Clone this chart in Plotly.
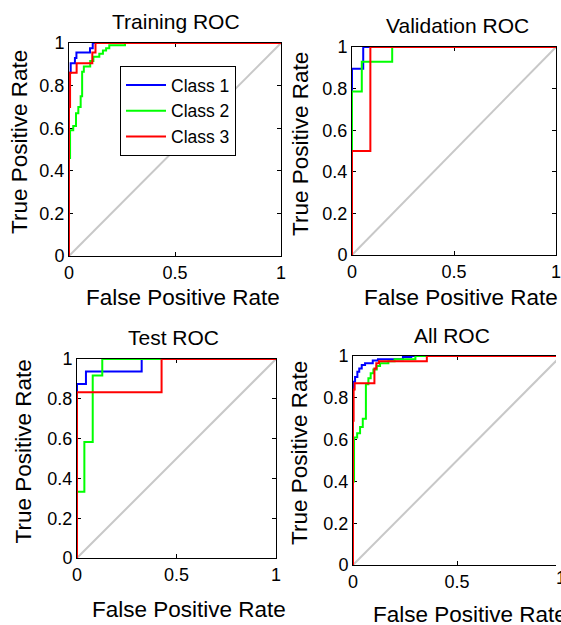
import plotly.graph_objects as go

W, H = 561, 625
FONT = "Liberation Sans, Arial, Helvetica, sans-serif"

panel_titles = ["Training ROC", "Validation ROC", "Test ROC", "All ROC"]
class_names = ["Class 1", "Class 2", "Class 3"]
class_colors = ["#0000ff", "#00ff00", "#ff0000"]
x_tick_vals = [0, 0.5, 1]
x_tick_text = ["0", "0.5", "1"]
y_tick_vals = [0, 0.2, 0.4, 0.6, 0.8, 1]
y_tick_text = ["0", "0.2", "0.4", "0.6", "0.8", "1"]

# ROC step points (vertical-then-horizontal steps), FPR / TPR per class
train_c1_fpr = [0, 0.008, 0.028, 0.035, 0.099, 0.112, 1]
train_c1_tpr = [0, 0.86, 0.905, 0.93, 0.955, 0.975, 1]
train_c2_fpr = [0, 0.005, 0.02, 0.033, 0.044, 0.055, 0.062, 0.07, 0.1, 0.115, 0.143, 0.16, 0.175, 0.19, 0.264, 1]
train_c2_tpr = [0, 0.46, 0.59, 0.61, 0.67, 0.70, 0.75, 0.865, 0.89, 0.915, 0.935, 0.95, 0.965, 0.975, 0.99, 1]
train_c3_fpr = [0, 0.005, 0.036, 0.11, 0.125, 1]
train_c3_tpr = [0, 0.70, 0.86, 0.905, 0.955, 1]

val_c1_fpr = [0, 0.055, 1]
val_c1_tpr = [0, 0.895, 1]
val_c2_fpr = [0, 0.048, 0.197, 1]
val_c2_tpr = [0, 0.786, 0.929, 1]
val_c3_fpr = [0, 0.09, 1]
val_c3_tpr = [0, 0.5, 1]

test_c1_fpr = [0, 0.045, 0.325, 1]
test_c1_tpr = [0, 0.875, 0.9375, 1]
test_c2_fpr = [0, 0.037, 0.079, 0.127, 1]
test_c2_tpr = [0, 0.333, 0.583, 0.917, 1]
test_c3_fpr = [0, 0.425, 1]
test_c3_tpr = [0, 0.833, 1]

all_c1_fpr = [0, 0.003, 0.01, 0.021, 0.03, 0.042, 0.058, 0.095, 0.12, 0.24, 0.28, 1]
all_c1_tpr = [0, 0.84, 0.877, 0.90, 0.925, 0.94, 0.957, 0.965, 0.978, 0.985, 0.995, 1]
all_c2_fpr = [0, 0.005, 0.02, 0.034, 0.047, 0.062, 0.074, 0.085, 0.098, 0.114, 0.13, 0.17, 0.2, 0.3, 1]
all_c2_tpr = [0, 0.40, 0.61, 0.63, 0.66, 0.70, 0.865, 0.893, 0.917, 0.936, 0.952, 0.965, 0.975, 0.985, 1]
all_c3_fpr = [0, 0.003, 0.008, 0.103, 0.112, 0.125, 0.355, 1]
all_c3_tpr = [0, 0.69, 0.84, 0.87, 0.94, 0.965, 0.975, 1]

panels = [
    [(train_c1_fpr, train_c1_tpr), (train_c2_fpr, train_c2_tpr), (train_c3_fpr, train_c3_tpr)],
    [(val_c1_fpr, val_c1_tpr), (val_c2_fpr, val_c2_tpr), (val_c3_fpr, val_c3_tpr)],
    [(test_c1_fpr, test_c1_tpr), (test_c2_fpr, test_c2_tpr), (test_c3_fpr, test_c3_tpr)],
    [(all_c1_fpr, all_c1_tpr), (all_c2_fpr, all_c2_tpr), (all_c3_fpr, all_c3_tpr)],
]

# target positions, in pixels of the final picture
boxes = [(69, 281, 43, 256), (352, 559, 47, 255), (77, 276, 359, 558), (353, 561, 356, 565)]
cut_right = [False, False, False, True]   # last panel runs off the right edge
title_pos = [(176, 22), (457, 25.5), (173, 337), (452, 335.5)]
xlabel_pos = [(183, 297.5), (461, 297.5), (189, 609), (470, 614)]
ylabel_pos = [(19, 142), (301, 144), (22.5, 452), (299, 453)]
legend_pos = (120, 66)

# the page is photographed into a slightly inset area: compensate
OX, OY = 5.0, 10.0
SX, SY = 551.0 / W, 605.0 / H


def fx(P):
    return (P - OX) / SX


def fy(P):
    return (P - OY) / SY


def px(P):
    return fx(P) / W


def py(P):
    return 1 - fy(P) / H


fig = go.Figure()
annotations = []
for i, (curves, box) in enumerate(zip(panels, boxes)):
    ax = "" if i == 0 else str(i + 1)
    xref, yref = "x" + ax, "y" + ax
    fig.add_trace(go.Scatter(x=[0, 1], y=[0, 1], mode="lines", xaxis=xref, yaxis=yref,
                             line=dict(color="#c8c8c8", width=2), showlegend=False, hoverinfo="skip"))
    for k, (fpr, tpr) in enumerate(curves):
        fig.add_trace(go.Scatter(x=fpr, y=tpr, mode="lines", xaxis=xref, yaxis=yref,
                                 line=dict(color=class_colors[k], width=2, shape="vh"),
                                 name=class_names[k], showlegend=(i == 0)))
    l, r, t, b = box
    lf, rf = fx(l), fx(r)
    x_end = 1.0
    if rf > W:
        if cut_right[i]:
            x_end = (W - lf) / (rf - lf)
        rf = W
    common = dict(showline=True, linecolor="black", linewidth=1, mirror="allticks",
                  ticks="inside", ticklen=4, tickcolor="black", showgrid=False, zeroline=False,
                  tickfont=dict(size=18, color="black", family=FONT), fixedrange=True,
                  layer="below traces", ticklabeloverflow="allow")
    fig.layout["xaxis" + ax] = dict(common, range=[0, x_end], domain=[lf / W, rf / W], anchor=yref,
                                    tickmode="array", tickvals=x_tick_vals, ticktext=x_tick_text)
    yax = dict(common, range=[0, 1], domain=[1 - fy(b) / H, 1 - fy(t) / H], anchor=xref,
               tickmode="array", tickvals=y_tick_vals, ticktext=y_tick_text)
    if cut_right[i]:
        yax["mirror"] = False
        annotations.append(dict(text=x_tick_text[-1], x=px(r), y=py(b + 13), xref="paper", yref="paper",
                                xanchor="center", yanchor="middle", showarrow=False,
                                font=dict(size=18, color="black", family=FONT)))
    fig.layout["yaxis" + ax] = yax
    tx, ty = title_pos[i]
    annotations.append(dict(text=panel_titles[i], x=px(tx), y=py(ty), xref="paper", yref="paper",
                            xanchor="center", yanchor="middle", showarrow=False,
                            font=dict(size=21, color="black", family=FONT)))
    lx, ly = xlabel_pos[i]
    annotations.append(dict(text="False Positive Rate", x=px(lx), y=py(ly), xref="paper", yref="paper",
                            xanchor="center", yanchor="middle", showarrow=False,
                            font=dict(size=22.5, color="black", family=FONT)))
    vx, vy = ylabel_pos[i]
    annotations.append(dict(text="True Positive Rate", x=px(vx), y=py(vy), xref="paper", yref="paper",
                            xanchor="center", yanchor="middle", showarrow=False, textangle=-90,
                            font=dict(size=22.5, color="black", family=FONT)))

fig.update_layout(
    width=W, height=H, margin=dict(l=0, r=0, t=0, b=0, pad=0),
    paper_bgcolor="white", plot_bgcolor="white",
    font=dict(family=FONT, color="black"),
    annotations=annotations,
    legend=dict(x=px(legend_pos[0]), y=py(legend_pos[1]), xanchor="left", yanchor="top",
                bgcolor="white", bordercolor="black", borderwidth=1,
                font=dict(size=17.5, color="black", family=FONT),
                tracegroupgap=0, itemwidth=40),
)

fig.write_html("out.html")
